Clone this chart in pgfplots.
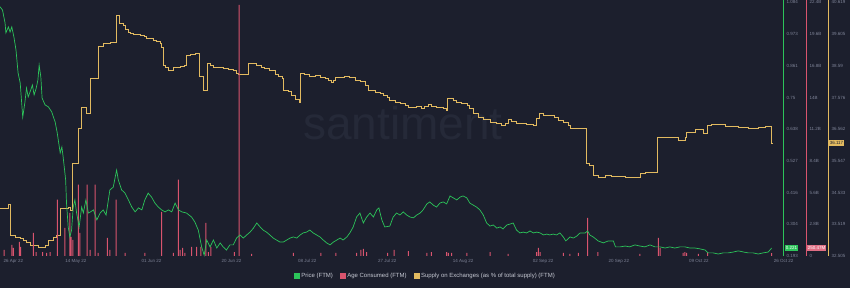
\documentclass[border=0pt]{standalone}
\usepackage{pgfplots}
\pgfplotsset{compat=1.18}
\usepackage{pgfplotstable}
\usepackage{fontspec}
\setmainfont{Liberation Sans}
\definecolor{bg}{HTML}{1C1F2D}
\definecolor{gcol}{HTML}{2CC45A}
\definecolor{rcol}{HTML}{D9546E}
\definecolor{ycol}{HTML}{E2BA60}
\definecolor{tickgray}{HTML}{7D8296}
\definecolor{leggray}{HTML}{C5C8D2}
\definecolor{wm}{HTML}{252938}

\pgfplotstableread{
d p
0 1.069
0.6 1.057
1.2 1.012
1.4 0.977
2.0 0.998
2.4 0.980
2.8 0.998
3.3 0.963
3.8 0.917
4.3 0.836
4.8 0.801
5.4 0.681
5.9 0.731
6.3 0.783
6.7 0.752
7.3 0.776
7.7 0.794
8.1 0.759
8.6 0.783
9.0 0.811
9.3 0.864
9.7 0.822
10.0 0.748
10.7 0.724
11.5 0.717
12.3 0.699
12.7 0.681
13.1 0.664
13.6 0.625
14.3 0.555
14.7 0.576
15.0 0.541
15.6 0.460
15.8 0.379
16.2 0.295
16.6 0.260
17.0 0.284
17.4 0.365
17.8 0.390
18.2 0.344
18.8 0.295
19.4 0.365
19.8 0.344
20.4 0.390
21.0 0.344
21.5 0.348
22.2 0.355
23.0 0.320
23.8 0.344
24.5 0.355
25.2 0.337
26.1 0.425
26.9 0.435
27.7 0.495
28.1 0.460
28.9 0.425
29.7 0.414
30.5 0.390
31.3 0.365
32.1 0.348
32.9 0.362
33.7 0.355
34.4 0.390
35.2 0.414
36.0 0.400
36.8 0.379
37.6 0.365
38.4 0.355
39.2 0.348
40.0 0.355
40.8 0.348
41.6 0.379
42.4 0.355
43.2 0.348
44.3 0.344
45.5 0.330
46.3 0.312
47.1 0.284
47.9 0.225
48.5 0.196
49.1 0.249
49.9 0.225
50.7 0.249
51.5 0.221
52.3 0.239
53.0 0.225
53.8 0.214
54.6 0.232
55.4 0.232
56.2 0.256
57.0 0.267
57.8 0.256
58.6 0.267
59.4 0.277
60.2 0.291
61.0 0.309
61.8 0.295
62.5 0.284
63.3 0.277
64.1 0.267
64.9 0.256
65.7 0.249
66.5 0.242
67.3 0.242
68.1 0.249
68.9 0.256
69.7 0.260
70.5 0.256
71.3 0.267
72.0 0.274
72.8 0.277
73.6 0.284
74.4 0.274
75.2 0.267
76.0 0.260
76.8 0.249
77.6 0.239
78.4 0.232
79.2 0.242
80.0 0.249
80.8 0.256
81.5 0.249
82.4 0.260
83.1 0.274
83.9 0.295
84.7 0.330
85.5 0.344
86.3 0.309
87.1 0.330
87.9 0.344
88.7 0.330
89.5 0.355
90.0 0.362
90.7 0.320
91.4 0.295
92.6 0.298
93.4 0.330
94.2 0.344
95.0 0.337
95.8 0.348
96.6 0.337
97.4 0.330
98.2 0.327
99.0 0.337
99.8 0.344
100.5 0.355
101.4 0.376
102.1 0.383
102.9 0.372
103.7 0.365
104.5 0.379
105.3 0.383
106.1 0.376
106.9 0.404
107.7 0.397
108.5 0.390
109.3 0.400
110.0 0.404
110.9 0.397
111.6 0.379
112.4 0.372
113.2 0.365
114.0 0.355
114.8 0.337
115.6 0.309
116.4 0.298
117.2 0.302
118.0 0.291
118.8 0.295
119.5 0.288
120.4 0.302
121.1 0.305
121.9 0.309
122.7 0.284
123.5 0.274
124.3 0.277
125.1 0.274
125.9 0.281
126.7 0.274
127.5 0.277
128.3 0.274
129.1 0.267
129.9 0.270
130.6 0.267
131.4 0.270
132.2 0.267
133.0 0.274
133.8 0.260
134.4 0.246
135.4 0.260
136.2 0.256
137.0 0.263
137.8 0.274
139.0 0.274
139.6 0.281
140.1 0.267
140.9 0.260
142.1 0.246
143.3 0.239
144.5 0.246
145.7 0.246
146.2 0.225
147.3 0.225
148.5 0.228
149.6 0.225
150.8 0.232
152.0 0.228
153.2 0.225
154.4 0.232
155.6 0.225
156.8 0.225
158.0 0.221
159.1 0.225
160.3 0.221
161.5 0.225
162.7 0.225
163.9 0.221
165.1 0.221
166.3 0.218
167.5 0.214
168.2 0.204
169.4 0.204
170.6 0.200
171.8 0.204
173.0 0.204
174.2 0.207
175.4 0.211
176.6 0.207
177.7 0.204
178.9 0.204
180.1 0.200
181.3 0.204
182.5 0.207
183.3 0.221
}\pricetab

\pgfplotstableread{
d s
0 34.041
2.0 34.169
2.4 33.177
3.6 33.113
4.8 33.081
5.5 33.017
6.3 32.953
7.1 32.857
9.1 32.793
10.7 32.857
11.5 33.017
12.7 33.113
13.5 33.177
14.4 34.041
16.2 34.073
16.6 33.977
17.3 35.480
18.6 36.600
19.4 37.272
20.6 37.080
21.4 38.200
23.3 39.224
24.5 39.320
26.1 39.352
27.6 40.216
28.3 39.960
29.3 39.896
29.7 39.768
30.5 39.672
30.9 39.640
31.7 39.608
33.3 39.576
34.4 39.544
34.8 39.480
36.4 39.416
37.2 39.384
38.0 39.320
38.4 39.192
38.8 38.616
39.2 38.552
40.0 38.456
41.2 38.552
42.8 38.584
43.9 38.616
44.2 38.936
45.1 38.968
46.3 39.000
47.3 38.264
48.3 37.816
49.3 38.680
49.9 38.616
50.7 38.552
53.0 38.520
54.2 38.488
55.4 38.456
56.2 38.360
56.6 38.328
59.1 38.680
61.0 38.616
62.2 38.552
62.9 38.520
64.1 38.456
65.3 38.328
66.1 38.264
67.1 38.200
67.3 37.816
68.5 37.784
69.3 37.656
70.1 37.528
71.0 37.432
71.3 38.360
72.4 38.328
73.6 38.264
74.8 38.296
76.0 38.232
77.2 38.200
78.0 38.136
78.8 38.072
79.2 38.136
79.6 38.232
81.9 38.264
83.1 38.232
84.3 38.136
85.5 38.104
86.7 37.976
87.5 37.816
89.1 37.752
90.3 37.720
91.0 37.656
91.9 37.592
92.6 37.496
93.8 37.432
95.0 37.400
96.2 37.336
97.0 37.272
99.0 37.304
100.2 37.240
100.9 37.304
101.7 37.368
102.5 37.304
103.7 37.272
105.3 37.240
106.1 37.176
106.3 37.560
107.7 37.496
108.5 37.432
109.7 37.400
110.9 37.336
111.6 37.240
112.4 37.080
113.6 36.952
114.8 36.888
116.4 36.792
118.0 36.760
119.2 36.696
120.0 36.760
120.7 36.888
121.5 36.824
122.7 36.760
125.1 36.728
126.7 36.696
127.5 36.920
128.1 37.080
129.1 37.016
131.8 36.952
132.6 36.856
133.8 36.792
135.0 36.696
135.4 36.600
139.2 35.480
140.1 35.416
140.9 35.097
142.1 35.033
143.7 35.097
145.3 35.065
148.5 35.033
152.0 35.161
153.2 35.192
156.1 36.312
161.1 36.216
162.7 36.312
163.1 36.472
165.1 36.568
167.1 36.440
168.1 36.696
169.0 36.728
172.2 36.664
175.4 36.632
177.7 36.600
180.1 36.632
181.7 36.664
183.3 36.117
183.5 36.117
}\suptab

\pgfplotstableread{
d a
1.0 0.53
2.8 0.98
3.2 0.71
4.6 1.24
4.9 0.80
7.9 2.04
8.6 0.35
10.1 0.35
11.1 0.27
11.9 0.35
13.6 4.97
15.4 2.48
16.6 3.81
16.9 1.69
17.3 1.42
18.6 6.30
19.0 2.04
20.7 6.30
21.4 0.53
22.6 6.30
23.3 0.27
25.5 1.60
26.1 0.53
27.6 4.97
29.7 0.27
34.4 0.27
38.4 3.90
41.2 0.27
42.4 6.74
42.8 0.53
43.4 0.71
43.9 0.27
45.5 0.80
46.7 0.80
47.7 0.80
48.9 2.93
49.5 0.35
50.1 0.80
55.7 0.35
56.8 22.17
59.8 0.18
69.7 0.27
76.2 0.27
79.8 0.27
84.7 0.27
85.7 0.53
86.3 0.62
87.1 0.35
92.1 0.27
93.6 0.53
97.0 0.44
101.4 0.27
102.5 0.35
106.1 0.35
106.5 0.27
107.3 0.27
110.9 0.27
116.4 0.35
120.7 0.18
127.5 0.35
127.9 0.71
128.3 0.35
133.8 0.27
135.4 0.18
137.4 0.27
139.6 3.37
142.0 0.35
152.0 0.18
156.4 1.60
156.8 0.71
162.3 0.27
162.7 0.35
163.1 0.27
165.9 0.18
168.1 0.35
183.3 0.25
}\agetab

\tikzset{badge/.style={font=\fontsize{4.5}{5}\selectfont, inner sep=1.1pt, anchor=west}}
\pgfplotsset{
  base/.style={
    scale only axis, width=783pt, height=256pt,
    at={(0pt,32pt)}, anchor=south west,
    xmin=0, xmax=186, clip=false,
    major tick length=0pt,
    tick style={draw=none},
    tick label style={font=\fontsize{4.5}{5}\selectfont, text=tickgray},
    axis y line*=right,
    every outer y axis line/.append style={-},
    every outer x axis line/.append style={-},
  },
}

\begin{document}
\begin{tikzpicture}
\useasboundingbox (0,0) rectangle (850pt,288pt);
\fill[bg] (0,0) rectangle (850pt,288pt);
\node[text=wm, font=\fontsize{46}{50}\selectfont] at (403pt,165pt) {santiment};

% Supply on exchanges
\begin{axis}[base, hide x axis,
  ymin=32.505, ymax=40.6955,
  y axis line style={draw=ycol, line width=0.6pt, xshift=45pt},
  ytick={32.505,33.519,34.533,35.547,36.562,37.576,38.590,39.605,40.619},
  yticklabels={32.505,33.519,34.533,35.547,36.562,37.576,38.59,39.605,40.619},
  yticklabel style={xshift=45pt}]
\addplot[const plot, draw=ycol, line width=0.7pt, no markers] table[x=d,y=s] {\suptab};
\node[badge, fill=ycol, text=bg] at (axis cs:186,36.117) [xshift=45.5pt] {36.117};
\end{axis}

% Age consumed
\begin{axis}[base, hide x axis,
  ymin=0, ymax=22.61,
  y axis line style={draw=rcol, line width=0.6pt, xshift=23pt},
  ytick={0,2.8,5.6,8.4,11.2,14,16.8,19.6,22.4},
  yticklabels={0,2.8B,5.6B,8.4B,11.2B,14B,16.8B,19.6B,22.4B},
  yticklabel style={xshift=23pt}]
\addplot[ybar, bar width=1pt, fill=rcol, draw=none, no markers] table[x=d,y=a] {\agetab};
\node[badge, fill=rcol!85!white, text=white] at (axis cs:186,0.25) [xshift=23.5pt, yshift=5pt] {250.47M};
\end{axis}

% Price
\begin{axis}[base,
  ymin=0.193, ymax=1.0926,
  axis x line*=bottom,
  x axis line style={draw=none},
  y axis line style={draw=gcol, line width=0.6pt},
  ytick={0.193,0.304,0.416,0.527,0.638,0.75,0.861,0.973,1.084},
  yticklabels={0.193,0.304,0.416,0.527,0.638,0.75,0.861,0.973,1.084},
  xtick={18,36,55,73,92,110,129,147,166},
  xticklabels={14 May 22,01 Jun 22,20 Jun 22,08 Jul 22,27 Jul 22,14 Aug 22,02 Sep 22,20 Sep 22,09 Oct 22},
  extra x ticks={0,183},
  extra x tick labels={26 Apr 22,26 Oct 22},
  extra x tick style={xticklabel style={anchor=north west}},
  legend columns=3,
  legend cell align=left,
  legend style={at={(axis description cs:0.543,0)}, anchor=center, yshift=-20pt,
    draw=none, fill=none, text=leggray, font=\fontsize{6}{7}\selectfont,
    /tikz/every even column/.append style={column sep=5pt}},
  ]
\addplot[draw=gcol, line width=0.7pt, no markers,
  legend image code/.code={\fill[gcol] (0pt,-2.5pt) rectangle (5pt,2.5pt);}]
  table[x=d,y=p] {\pricetab};
\addlegendentry{Price (FTM)}
\addlegendimage{legend image code/.code={\fill[rcol] (0pt,-2.5pt) rectangle (5pt,2.5pt);}}
\addlegendentry{Age Consumed (FTM)}
\addlegendimage{legend image code/.code={\fill[ycol] (0pt,-2.5pt) rectangle (5pt,2.5pt);}}
\addlegendentry{Supply on Exchanges (as \% of total supply) (FTM)}
\node[badge, fill=gcol, text=white] at (axis cs:186,0.221) [xshift=1.5pt] {0.221};
\end{axis}
\end{tikzpicture}
\end{document}
